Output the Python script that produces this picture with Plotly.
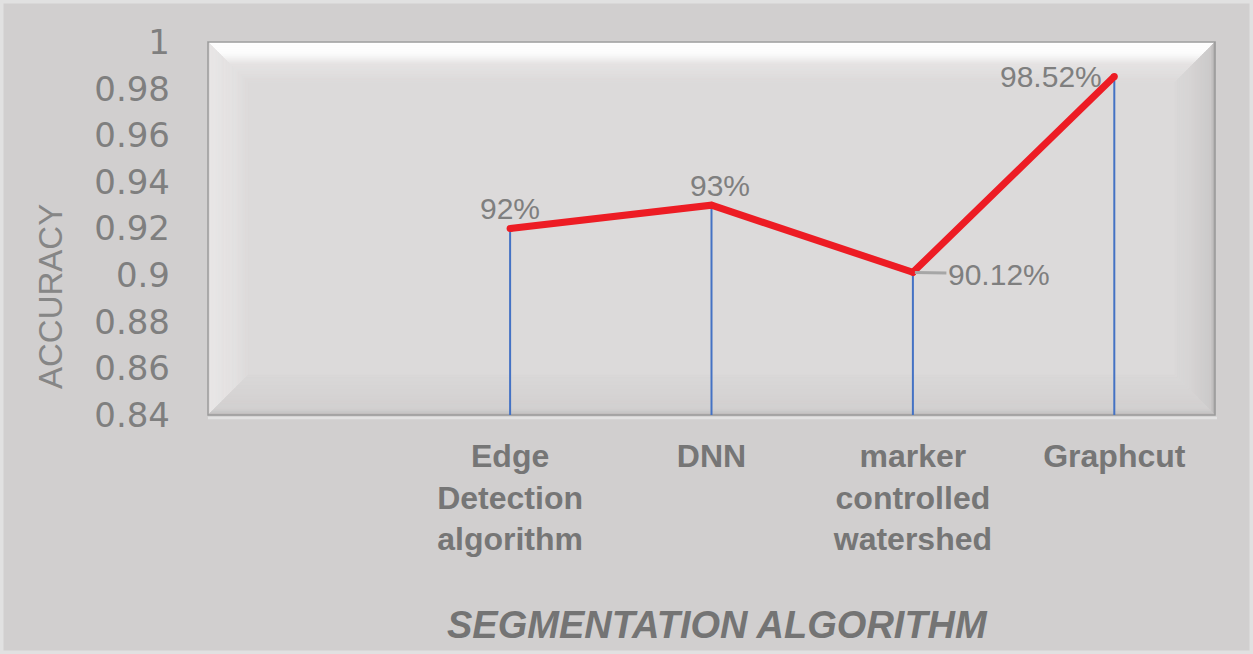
import plotly.graph_objects as go

# ---------------- data ----------------
categories = ["", "Edge<br>Detection<br>algorithm", "DNN", "marker<br>controlled<br>watershed", "Graphcut"]
accuracy = [None, 0.92, 0.93, 0.9012, 0.9852]
y_ticks = [0.84, 0.86, 0.88, 0.90, 0.92, 0.94, 0.96, 0.98, 1.0]
y_ticktext = ["0.84", "0.86", "0.88", "0.9", "0.92", "0.94", "0.96", "0.98", "1"]
y_min, y_max = 0.84, 1.0
x_title = "SEGMENTATION ALGORITHM"
y_title = "ACCURACY"

# ---------------- geometry (pixels) ----------------
W, H = 1253, 654
L, R, T, B = 208, 1215, 42, 415
PW, PH = R - L, B - T


def px(xp):
    return (xp - L) / PW


def py(yp):
    return (B - yp) / PH


def hexmix(c1, c2, t):
    a = [int(c1[i:i + 2], 16) for i in (1, 3, 5)]
    b = [int(c2[i:i + 2], 16) for i in (1, 3, 5)]
    return "#" + "".join(f"{round(a[k] + (b[k] - a[k]) * t):02x}" for k in range(3))


def ramp(stops, d):
    for (d0, c0), (d1, c1) in zip(stops, stops[1:]):
        if d0 <= d <= d1:
            return hexmix(c0, c1, (d - d0) / (d1 - d0) if d1 > d0 else 0)
    return stops[-1][1]


FACE = "#dcdada"
BEV = 40
bevel_stops = {
    "top": [(0, "#ffffff"), (12, "#fcfcfc"), (22, "#e6e4e4"), (40, FACE)],
    "left": [(0, "#d8d6d6"), (3, "#e8e6e6"), (30, "#e2e0e0"), (40, FACE)],
    "right": [(0, "#a9a7a7"), (4, "#cbc9c9"), (25, "#d6d4d4"), (40, "#dad8d8")],
    "bottom": [(0, "#bdbbbb"), (6, "#d2d0d0"), (40, "#dad8d8")],
}

shapes = []


def path_of(pts):
    return "M " + " L ".join(f"{px(a):.5f},{py(b):.5f}" for a, b in pts) + " Z"


# plot face
shapes.append(dict(type="rect", xref="paper", yref="paper", x0=0, x1=1, y0=0, y1=1,
                   fillcolor=FACE, line=dict(width=0), layer="below"))
N = 20
for side, stops in bevel_stops.items():
    for k in range(N):
        d0 = BEV * k / N
        d1 = BEV * (k + 1) / N
        col = ramp(stops, (d0 + d1) / 2)
        if side == "top":
            pts = [(L + d0, T + d0), (R - d0, T + d0), (R - d1, T + d1), (L + d1, T + d1)]
        elif side == "bottom":
            pts = [(L + d0, B - d0), (R - d0, B - d0), (R - d1, B - d1), (L + d1, B - d1)]
        elif side == "left":
            pts = [(L + d0, T + d0), (L + d1, T + d1), (L + d1, B - d1), (L + d0, B - d0)]
        else:
            pts = [(R - d0, T + d0), (R - d1, T + d1), (R - d1, B - d1), (R - d0, B - d0)]
        shapes.append(dict(type="path", xref="paper", yref="paper", path=path_of(pts),
                           fillcolor=col, line=dict(width=0.6, color=col), layer="below"))

# plot-area border
shapes.append(dict(type="rect", xref="paper", yref="paper", x0=0, x1=1, y0=0, y1=1,
                   fillcolor="rgba(0,0,0,0)", line=dict(width=1.5, color="#9a9a9a"), layer="below"))
# light strip under plot area
shapes.append(dict(type="line", xref="paper", yref="paper", x0=px(L), x1=px(R + 2),
                   y0=py(B + 3), y1=py(B + 3), line=dict(width=2.5, color="#e2e2e2"), layer="below"))
# outer canvas light border
shapes.append(dict(type="rect", xref="paper", yref="paper", x0=px(0), x1=px(W), y0=py(H), y1=py(0),
                   fillcolor="rgba(0,0,0,0)", line=dict(width=7, color="#e1e1e1"), layer="above"))

# ---------------- traces ----------------
x_idx = list(range(len(categories)))
drop_minus = [None if v is None else v - y_min for v in accuracy]
drop_plus = [None if v is None else 0 for v in accuracy]

fig = go.Figure()
fig.add_trace(go.Scatter(
    x=x_idx, y=accuracy, mode="lines+markers",
    line=dict(color="#ed1c24", width=7),
    marker=dict(color="#ed1c24", size=7),
    error_y=dict(type="data", symmetric=False, array=drop_plus, arrayminus=drop_minus,
                 color="#4472c4", thickness=2, width=0),
    hoverinfo="skip", showlegend=False,
))


def pct(v):
    return f"{v * 100:g}%"


label_font = dict(family="Liberation Sans, Arial, sans-serif", size=30, color="#7f7f7f")
annotations = []
# label offsets per point (style)
offsets = {1: (0, 20), 2: (8, 20), 4: (-63, 0)}
for i, v in enumerate(accuracy):
    if v is None:
        continue
    if i == 3:
        annotations.append(dict(x=i, y=v, xref="x", yref="y", text=pct(v), font=label_font,
                                showarrow=True, arrowhead=0, arrowwidth=3, arrowcolor="#a6a6a6",
                                ax=86, ay=2, standoff=2, startstandoff=0))
    else:
        dx, dy = offsets[i]
        annotations.append(dict(x=i, y=v, xref="x", yref="y", text=pct(v), font=label_font,
                                showarrow=False, xshift=dx, yshift=dy))

annotations.append(dict(x=px(50), y=py(297), xref="paper", yref="paper", text=y_title,
                        textangle=-90, showarrow=False, xanchor="center", yanchor="middle",
                        font=dict(family="Liberation Sans, Arial, sans-serif", size=33, color="#868686")))
annotations.append(dict(x=px(717), y=py(625), xref="paper", yref="paper",
                        text=f"<b><i>{x_title}</i></b>", showarrow=False,
                        xanchor="center", yanchor="middle",
                        font=dict(family="Liberation Sans, Arial, sans-serif", size=38, color="#747474")))

fig.update_layout(
    width=W, height=H,
    margin=dict(l=L, r=W - R, t=T, b=H - B, pad=0),
    paper_bgcolor="#d1cfcf",
    plot_bgcolor=FACE,
    shapes=shapes,
    annotations=annotations,
    showlegend=False,
    xaxis=dict(range=[-0.5, len(categories) - 0.5], tickvals=x_idx, ticktext=[f"<b>{c}</b>" for c in categories],
               showgrid=False, zeroline=False, showline=False, ticks="",
               tickfont=dict(family="Liberation Sans, Arial, sans-serif", size=32, color="#767676"),
               ticklabelstandoff=19, fixedrange=True),
    yaxis=dict(range=[y_min, y_max], tickvals=y_ticks, ticktext=y_ticktext,
               showgrid=False, zeroline=False, showline=False, ticks="",
               tickfont=dict(family="DejaVu Sans, sans-serif", size=34, color="#7f7f7f"),
               ticklabelstandoff=37, fixedrange=True),
)

fig.write_html("out.html", config={"displayModeBar": False},
               post_script="document.body.style.margin='0px';document.body.style.overflow='hidden';")
